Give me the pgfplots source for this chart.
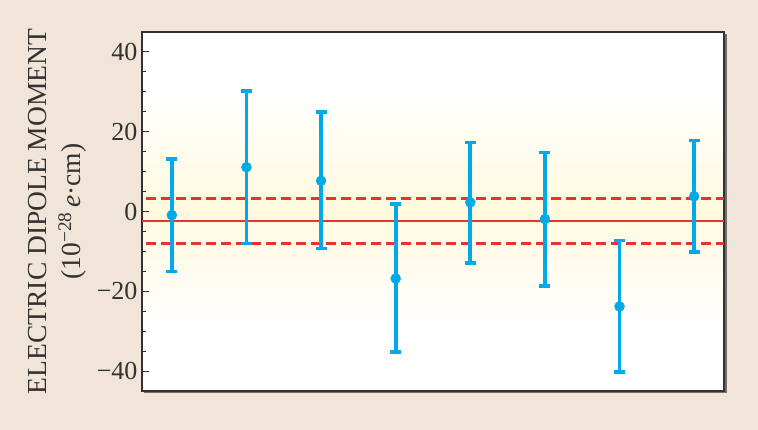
\documentclass[border=0pt]{standalone}
\usepackage{fontspec}
\setmainfont{Liberation Serif}
\usepackage{pgfplots}
\pgfplotsset{compat=1.18}
\definecolor{bg}{RGB}{240,229,216}
\definecolor{edmblue}{RGB}{0,170,230}
\definecolor{edmred}{RGB}{234,50,45}
\definecolor{frame}{RGB}{50,50,50}
\definecolor{cream}{RGB}{255,249,222}
\begin{document}
\begin{tikzpicture}
\fill[bg] (-142pt,-39pt) rectangle (616pt,391pt);
\fill[frame!70] (2pt,-2.5pt) rectangle (584.5pt,357pt);
\fill[white] (0pt,0pt) rectangle (582pt,359pt);
\fill[top color=white, bottom color=white, middle color=cream] (0pt,64pt) rectangle (582pt,295pt);
\begin{axis}[at={(0,0)}, anchor=south west, scale only axis,
  width=582pt, height=359pt,
  xmin=0.6, xmax=8.4, ymin=-45, ymax=45,
  xtick=\empty, ytick={-40,-20,0,20,40},
  yticklabels={−40,−20,0,20,40},
  minor y tick num=3,
  ytick pos=left, tick align=inside,
  major tick length=7pt, minor tick length=4pt,
  tick style={frame, line width=0.9pt},
  axis line style={frame, line width=1.8pt},
  tick label style={font=\fontsize{26}{26}\selectfont, text=frame},
  yticklabel style={xshift=-1pt},
]
\addplot[edmred, line width=3pt, dash pattern=on 10pt off 5pt, dash phase=-4pt] coordinates {(0.6,3.3) (8.4,3.3)};
\addplot[edmred, line width=3pt, dash pattern=on 10pt off 5pt, dash phase=-4pt] coordinates {(0.6,-8.1) (8.4,-8.1)};
\addplot[edmred, line width=2.3pt] coordinates {(0.6,-2.3) (8.4,-2.3)};
\addplot[edmblue, only marks, mark=*, mark size=5pt,
  mark options={fill=edmblue, draw=edmblue},
  error bars/.cd, y dir=both, y explicit,
  error bar style={line width=3.8pt, edmblue},
  error mark=|,
  error mark options={edmblue, line width=3.5pt, mark size=5.5pt}]
  table[x=x, y=y, y error plus=ep, y error minus=em] {
x y ep em
1 -0.9 14.1 14.1
2 11.1 19.1 19.1
3 7.7 17.3 17.0
4 -16.8 18.7 18.45
5 2.3 14.95 15.2
6 -1.9 16.65 16.8
7 -23.8 16.55 16.45
8 3.8 13.95 13.9
};
\end{axis}
\node[rotate=90, align=center, text=frame, font=\fontsize{27.5}{34}\selectfont] at (-85pt,179.5pt)
  {ELECTRIC DIPOLE MOMENT\\(10\textsuperscript{−28}\,\textit{e}·cm)};
\end{tikzpicture}
\end{document}
